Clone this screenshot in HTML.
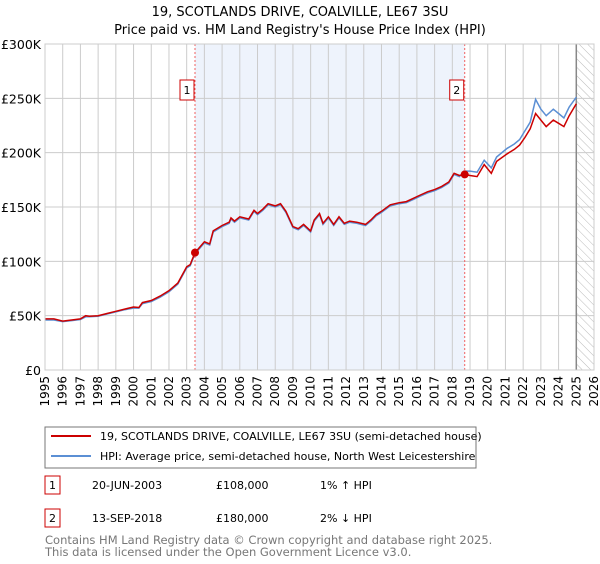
<!DOCTYPE html>
<html><head><meta charset="utf-8"><style>
body{margin:0;background:#fff;font-family:"DejaVu Sans","Liberation Sans",sans-serif;}
svg text{font-family:"DejaVu Sans","Liberation Sans",sans-serif;}
</style></head><body>
<svg id="c" width="600" height="560" viewBox="0 0 600 560">
<defs><pattern id="hatch" width="6" height="6" patternUnits="userSpaceOnUse" patternTransform="rotate(-45)"><line x1="0" y1="0" x2="0" y2="6" stroke="#bbb" stroke-width="1"/></pattern></defs>
<text x="300" y="16" text-anchor="middle" font-size="13">19, SCOTLANDS DRIVE, COALVILLE, LE67 3SU</text>
<text x="300" y="34" text-anchor="middle" font-size="13">Price paid vs. HM Land Registry's House Price Index (HPI)</text>
<g id="plot"></g>
<rect x="45" y="427" width="431" height="41" fill="#fff" stroke="#777"/>
<line x1="51" y1="436" x2="91" y2="436" stroke="#cc0000" stroke-width="2"/>
<text x="100" y="440" font-size="11">19, SCOTLANDS DRIVE, COALVILLE, LE67 3SU (semi-detached house)</text>
<line x1="51" y1="456" x2="91" y2="456" stroke="#5b8fd4" stroke-width="2"/>
<text x="100" y="460" font-size="11">HPI: Average price, semi-detached house, North West Leicestershire</text>
<g font-size="11">
<rect x="45" y="476" width="15" height="18" fill="#fff" stroke="#cc0000"/>
<text x="52.5" y="489" text-anchor="middle">1</text>
<text x="92" y="489">20-JUN-2003</text>
<text x="216" y="489">£108,000</text>
<text x="320" y="489">1% ↑ HPI</text>
<rect x="45" y="509" width="15" height="18" fill="#fff" stroke="#cc0000"/>
<text x="52.5" y="522" text-anchor="middle">2</text>
<text x="92" y="522">13-SEP-2018</text>
<text x="216" y="522">£180,000</text>
<text x="320" y="522">2% ↓ HPI</text>
</g>
<text x="45" y="544" font-size="11.5" fill="#777">Contains HM Land Registry data © Crown copyright and database right 2025.</text>
<text x="45" y="556" font-size="11.5" fill="#777">This data is licensed under the Open Government Licence v3.0.</text>
</svg>
<script>
const years=[1995,1995.5,1996,1996.5,1997,1997.3,1997.5,1998,1998.5,1999,1999.5,2000,2000.3,2000.5,2001,2001.5,2002,2002.5,2003,2003.2,2003.47,2004,2004.3,2004.5,2005,2005.4,2005.5,2005.7,2006,2006.5,2006.8,2007,2007.3,2007.6,2008,2008.3,2008.6,2009,2009.3,2009.6,2010,2010.2,2010.5,2010.7,2011,2011.3,2011.6,2011.9,2012.2,2012.6,2013.1,2013.4,2013.7,2014,2014.5,2015,2015.4,2015.8,2016.2,2016.6,2017,2017.4,2017.8,2018.1,2018.4,2018.7,2019,2019.4,2019.8,2020.2,2020.5,2021.1,2021.5,2021.8,2022.1,2022.4,2022.7,2023,2023.3,2023.7,2024,2024.3,2024.6,2025];
const hpi=[46,46,44.5,45.5,46.5,49,49,49.5,51.5,53.5,55.5,57,57,61,63,67,72,79,94,96,107,117,115,127,132,135,139,136,140,138,146,143,147,152,150,152,145,131,129,133,127,137,143,134,140,133,140,134,136,135,133,137,142,145,151,153,154,157,160,163,165,168,172,180,178,183,183,182,193,186,196,204,208,212,220,228,249,240,234,240,236,232,242,251];
const price=[47,47,45,46,47,50,49.5,50,52,54,56,58,57.5,62,64,68,73,80,95,97,108,118,116,128,133,136,140,137,141,139,147,144,148,153,151,153,146,132,130,134,128,138,144,135,141,134,141,135,137,136,134,138,143,146,152,154,155,158,161,164,166,169,173,181,179,180,179,178,189,181,192,199,203,207,214,222,236,230,224,230,227,224,234,245];
const yTicks=[0,50,100,150,200,250,300];
const yTickLabels=["£0","£50K","£100K","£150K","£200K","£250K","£300K"];
const xTicks=[1995,1996,1997,1998,1999,2000,2001,2002,2003,2004,2005,2006,2007,2008,2009,2010,2011,2012,2013,2014,2015,2016,2017,2018,2019,2020,2021,2022,2023,2024,2025,2026];
const sales=[{n:"1",t:2003.47,v:108},{n:"2",t:2018.7,v:180}];
const X0=45,X1=594,Y0=370,Y1=44;
const xs=t=>X0+(t-1995)/31*(X1-X0);
const ys=v=>Y0-v/300*(Y0-Y1);
const NS="http://www.w3.org/2000/svg";
const g=document.getElementById('plot');
function mk(tag,attrs){const e=document.createElementNS(NS,tag);for(const k in attrs)e.setAttribute(k,attrs[k]);g.appendChild(e);return e;}
let r=mk('rect',{x:xs(2003.47),y:Y1,width:xs(2018.7)-xs(2003.47),height:Y0-Y1,fill:'#eef3fc'});


r=mk('rect',{x:xs(2025),y:Y1,width:X1-xs(2025),height:Y0-Y1,fill:'url(#hatch)'});


xTicks.forEach(t=>{let l=mk('line',{x1:xs(t),x2:xs(t),y1:Y1,y2:Y0,stroke:'#ccc'});


const tx0=xs(t)+4,ty0=Y0+6;
let tx=mk('text',{x:tx0,y:ty0,'text-anchor':'end','font-size':'12',transform:'rotate(-90 '+tx0+' '+ty0+')'});tx.textContent=t;

});
yTicks.forEach((v,i)=>{let l=mk('line',{x1:X0,x2:X1,y1:ys(v),y2:ys(v),stroke:'#ccc'});


let tx=mk('text',{x:X0-4,y:ys(v)+5,'text-anchor':'end','font-size':'12.5'});tx.textContent=yTickLabels[i];

});
r=mk('line',{x1:xs(2025),x2:xs(2025),y1:Y1,y2:Y0,stroke:'#888','stroke-width':1.5});


sales.forEach(s=>{let l=mk('line',{x1:xs(s.t),x2:xs(s.t),y1:Y1,y2:Y0,stroke:'#f06060','stroke-dasharray':'2,2'});

});
const path=(arr)=>arr.map((v,i)=>(i?'L':'M')+xs(years[i]).toFixed(1)+','+ys(v).toFixed(1)).join('');
let p=mk('path',{d:path(hpi),fill:'none',stroke:'#5b8fd4','stroke-width':1.5});


p=mk('path',{d:path(price),fill:'none',stroke:'#cc0000','stroke-width':1.5});


sales.forEach(s=>{let c=mk('circle',{cx:xs(s.t),cy:ys(s.v),r:4,fill:'#cc0000'});


let b=mk('rect',{x:xs(s.t)-15,y:80,width:14,height:20,fill:'#fff',stroke:'#cc0000'});


let t=mk('text',{x:xs(s.t)-8,y:94,'text-anchor':'middle','font-size':'11'});t.textContent=s.n;

});
r=mk('rect',{x:X0,y:Y1,width:X1-X0,height:Y0-Y1,fill:'none',stroke:'#ccc'});


</script>
</body></html>
